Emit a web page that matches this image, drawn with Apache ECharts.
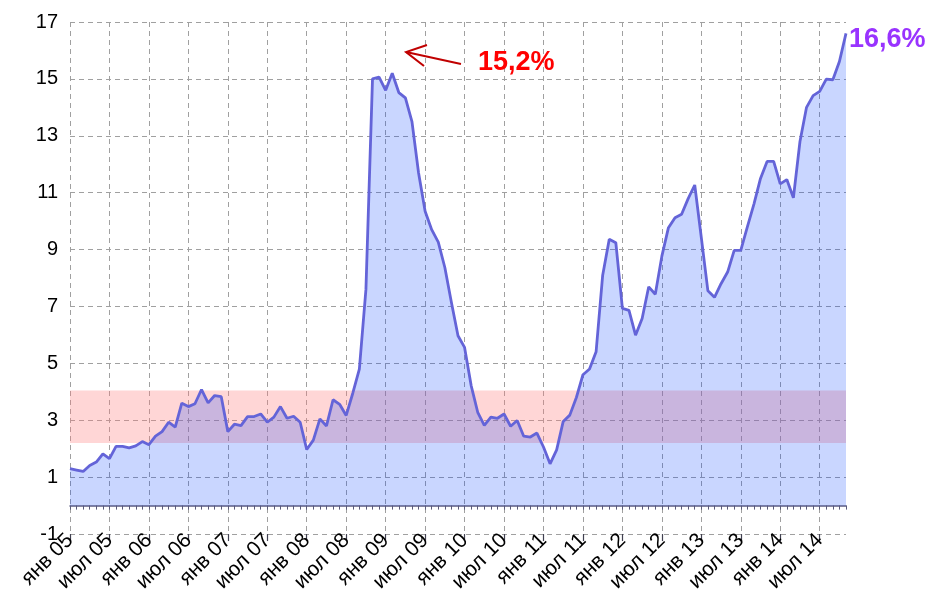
<!DOCTYPE html>
<html>
<head>
<meta charset="utf-8">
<script src="https://cdn.jsdelivr.net/npm/echarts@6/dist/echarts.min.js"></script>
<style>
html,body{margin:0;padding:0;background:#fff;}
#chart{width:933px;height:595px;}
</style>
</head>
<body>
<div id="chart"></div>
<script>
// Month names and years used for category labels
const monthNames = ['янв','фев','мар','апр','май','июн','июл','авг','сен','окт','ноя','дек'];
const yearLabels = ['05','06','07','08','09','10','11','12','13','14'];
const monthCount = 119; // янв 05 .. ноя 14

// Inflation values, %, one per month
const inflation = [
  1.30, 1.25, 1.20, 1.41, 1.53, 1.82, 1.65, 2.08, 2.08, 2.03, 2.10, 2.25,
  2.14, 2.44, 2.60, 2.93, 2.76, 3.60, 3.48, 3.58, 4.08, 3.61, 3.87, 3.83,
  2.60, 2.86, 2.81, 3.13, 3.13, 3.22, 2.93, 3.11, 3.48, 3.07, 3.14, 2.93,
  1.97, 2.30, 3.05, 2.80, 3.72, 3.56, 3.17, 3.95, 4.80, 7.60, 15.00, 15.06,
  14.60, 15.20, 14.52, 14.33, 13.50, 11.70, 10.35, 9.70, 9.26, 8.37, 7.14, 5.97,
  5.56, 4.22, 3.28, 2.82, 3.11, 3.07, 3.22, 2.79, 2.99, 2.44, 2.41, 2.55,
  2.06, 1.47, 1.96, 2.96, 3.18, 3.80, 4.60, 4.80, 5.41, 8.10, 9.36, 9.24,
  6.93, 6.86, 5.99, 6.58, 7.69, 7.43, 8.77, 9.77, 10.12, 10.24, 10.79, 11.27,
  9.42, 7.55, 7.32, 7.80, 8.21, 8.97, 8.97, 9.80, 10.60, 11.50, 12.10, 12.10,
  11.31, 11.46, 10.82, 12.80, 14.00, 14.41, 14.56, 14.99, 14.97, 15.61, 16.60
];

// Target band (pink), %
const bandRange = [2.2, 4.05];

// Y axis ticks
const yMin = -1, yMax = 17, yStep = 2;

// Crisis-peak annotation: index of фев 09 in the series
const crisisPeakIndex = 49;

const categories = [];
yearLabels.forEach(function (yy) {
  monthNames.forEach(function (m) { categories.push(m + ' ' + yy); });
});
categories.length = monthCount;

function fmtPct(v) { return v.toFixed(1).replace('.', ',') + '%'; }

const FONT = '"Liberation Sans", Arial, sans-serif';
const chart = echarts.init(document.getElementById('chart'), null, {renderer: 'canvas'});

const option = {
  animation: false,
  backgroundColor: '#ffffff',
  grid: { left: 70, right: 87, top: 22, bottom: 60, containLabel: false },
  xAxis: [
    {
      type: 'category', data: categories, boundaryGap: false, position: 'bottom',
      axisLine: { show: true, onZero: true, lineStyle: { color: '#5a5a80', width: 1.5 } },
      axisTick: { show: true, interval: 0, length: 4, lineStyle: { color: '#5a5a7a' } },
      axisLabel: { show: false },
      splitLine: { show: true, interval: 5, lineStyle: { color: '#a0a0a0', type: [5, 4], width: 1 } }
    },
    {
      type: 'category', data: categories, boundaryGap: false, position: 'bottom',
      axisLine: { show: false, onZero: true },
      axisTick: { show: true, interval: 5, length: 7, lineStyle: { color: '#404050', width: 1.2 } },
      axisLabel: { show: false },
      splitLine: { show: false }
    },
    {
      type: 'category', data: categories, boundaryGap: false, position: 'bottom',
      axisLine: { show: false, onZero: false },
      axisTick: { show: false },
      axisLabel: { show: true, interval: 5, rotate: 45, margin: 3, fontSize: 21, color: '#000', fontFamily: FONT },
      splitLine: { show: false }
    }
  ],
  yAxis: {
    type: 'value', min: yMin, max: yMax, interval: yStep,
    axisLine: { show: false }, axisTick: { show: false },
    axisLabel: { fontSize: 20, color: '#000', margin: 12, fontFamily: FONT },
    splitLine: { show: true, lineStyle: { color: '#a0a0a0', type: [5, 4], width: 1 } }
  },
  series: [
    {
      name: 'band', type: 'line', data: [], z: 1, silent: true,
      markArea: {
        silent: true,
        itemStyle: { color: 'rgba(255,128,128,0.32)' },
        data: [[{ yAxis: bandRange[0] }, { yAxis: bandRange[1] }]]
      }
    },
    {
      name: 'inflation', type: 'line', data: inflation, z: 3,
      xAxisIndex: 0, yAxisIndex: 0,
      symbol: 'none', smooth: false,
      lineStyle: { color: '#6464d8', width: 2.8 },
      areaStyle: { color: 'rgba(0,60,255,0.21)', opacity: 1 },
      endLabel: {
        show: true, formatter: function (p) { return fmtPct(p.value); },
        color: '#9933ff', fontSize: 27, fontWeight: 'bold', fontFamily: FONT,
        distance: 3, offset: [0, 6]
      }
    }
  ],
  graphic: [
    {
      type: 'polyline', silent: true, z: 10,
      shape: { points: [[461, 64], [406, 52]] },
      style: { stroke: '#c00000', lineWidth: 2, fill: null }
    },
    {
      type: 'polyline', silent: true, z: 10,
      shape: { points: [[427, 45], [406, 52], [424, 66]] },
      style: { stroke: '#c00000', lineWidth: 2, fill: null }
    },
    {
      type: 'text', silent: true, z: 10, x: 478, y: 63,
      style: {
        text: fmtPct(inflation[crisisPeakIndex]), fill: '#ff0000',
        font: 'bold 27px ' + FONT, textVerticalAlign: 'middle', verticalAlign: 'middle'
      }
    }
  ]
};
chart.setOption(option);
</script>
</body>
</html>
